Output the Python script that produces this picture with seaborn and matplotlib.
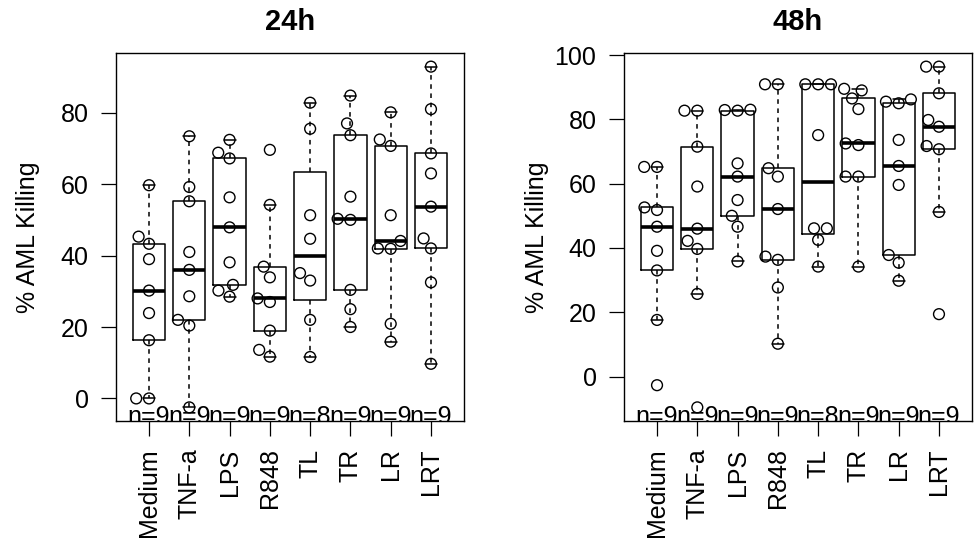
import numpy as np
import pandas as pd
import matplotlib
matplotlib.use("Agg")
import matplotlib.pyplot as plt
import matplotlib.transforms as mtransforms
from matplotlib.collections import PathCollection
import seaborn as sns

sns.set_style("ticks")
plt.rcParams["font.family"] = ["Liberation Sans", "DejaVu Sans"]
plt.rcParams["text.color"] = "black"
plt.rcParams["axes.labelcolor"] = "black"
plt.rcParams["xtick.color"] = "black"
plt.rcParams["ytick.color"] = "black"

groups = ["Medium", "TNF-a", "LPS", "R848", "TL", "TR", "LR", "LRT"]

# % AML killing, 24h
medium_24 = [59.7, 45.3, 43.3, 39.0, 30.2, 23.9, 16.3, 0.0, 0.0]
tnfa_24 = [73.4, 59.2, 55.2, 41.0, 36.0, 28.6, 22.0, 20.4, -2.5]
lps_24 = [72.4, 68.8, 67.2, 56.3, 47.9, 38.1, 31.8, 30.2, 28.5]
r848_24 = [69.6, 54.2, 36.9, 33.9, 28.0, 27.0, 19.0, 13.6, 11.7]
tl_24 = [82.8, 75.5, 51.3, 44.7, 35.1, 33.0, 22.0, 11.6]
tr_24 = [84.8, 77.0, 73.7, 56.5, 50.3, 50.0, 30.4, 25.0, 20.0]
lr_24 = [80.1, 72.5, 70.7, 51.3, 44.1, 41.9, 42.0, 20.9, 15.9]
lrt_24 = [92.9, 81.0, 68.6, 63.0, 53.7, 44.8, 42.0, 32.5, 9.7]

# % AML killing, 48h
medium_48 = [65.2, 65.2, 52.6, 51.8, 46.6, 39.1, 33.0, 17.6, -2.7]
tnfa_48 = [82.7, 82.7, 71.5, 59.1, 46.0, 42.2, 39.7, 25.7, -9.6]
lps_48 = [83.0, 82.9, 82.7, 66.3, 62.2, 54.9, 50.0, 46.6, 35.8]
r848_48 = [90.9, 90.9, 64.8, 62.2, 52.1, 37.3, 36.3, 27.7, 10.2]
tl_48 = [90.9, 90.9, 90.9, 75.1, 46.1, 46.1, 42.5, 34.2]
tr_48 = [89.5, 89.0, 86.5, 83.2, 72.5, 72.0, 62.2, 62.2, 34.2]
lr_48 = [86.2, 85.5, 85.0, 73.6, 65.5, 59.6, 37.8, 35.4, 29.8]
lrt_48 = [96.4, 96.4, 88.1, 79.8, 77.7, 71.7, 70.7, 51.2, 19.4]

panels = [
    ("24h", [medium_24, tnfa_24, lps_24, r848_24, tl_24, tr_24, lr_24, lrt_24]),
    ("48h", [medium_48, tnfa_48, lps_48, r848_48, tl_48, tr_48, lr_48, lrt_48]),
]


def fivenum_stats(vals, coef=1.5):
    # R style hinges and whiskers
    x = np.sort(np.asarray(vals, float))
    n = len(x)
    n4 = np.floor((n + 3) / 2) / 2
    d = np.array([1, n4, (n + 1) / 2, n + 1 - n4, n]) - 1
    f = 0.5 * (x[np.floor(d).astype(int)] + x[np.ceil(d).astype(int)])
    iqr = f[3] - f[1]
    lo = x[x >= f[1] - coef * iqr].min()
    hi = x[x <= f[3] + coef * iqr].max()
    return {"med": f[2], "q1": f[1], "q3": f[3], "whislo": lo, "whishi": hi, "fliers": []}


W, H = 974, 543
fig = plt.figure(figsize=(W / 100, H / 100), dpi=100)
fs = 18
lefts = [116, 624]
ylab_x = [28, 537]

for k, (title, series) in enumerate(panels):
    x0 = lefts[k]
    ax = fig.add_axes([x0 / W, 1 - 421 / H, 348 / W, (421 - 53) / H])

    df = pd.DataFrame({
        "group": np.repeat(groups, [len(s) for s in series]),
        "value": np.concatenate(series),
    })
    sns.swarmplot(data=df, x="group", y="value", order=groups, ax=ax,
                  size=7.8, color="black", zorder=3)
    for c in ax.collections:
        if isinstance(c, PathCollection):
            c.set_facecolor("none")
            c.set_edgecolor("black")
            c.set_linewidth(1.0)

    ax.bxp([fivenum_stats(s) for s in series], positions=range(len(groups)),
           widths=0.8, showfliers=False, manage_ticks=False, capwidths=0.3,
           boxprops=dict(color="black", lw=1.1),
           medianprops=dict(color="black", lw=2.6, solid_capstyle="butt"),
           whiskerprops=dict(color="black", lw=1.1, linestyle=(0, (3, 3))),
           capprops=dict(color="black", lw=1.1), zorder=2)

    allv = df["value"]
    rng = allv.max() - allv.min()
    ax.set_ylim(allv.min() - 0.04 * rng, allv.max() + 0.04 * rng)
    ax.set_xlim(-0.82, len(groups) - 0.18)
    ax.yaxis.set_major_locator(matplotlib.ticker.MultipleLocator(20))
    ax.set_xticks(range(len(groups)))
    ax.set_xticklabels(groups, rotation=90)
    ax.set_xlabel("")
    ax.set_ylabel("")
    ax.tick_params(direction="out", length=10.8, width=0.9, pad=9,
                   labelsize=fs, color="black", labelcolor="black")
    for sp in ax.spines.values():
        sp.set_linewidth(1.0)
        sp.set_color("black")

    # sample sizes along the bottom, clipped by the plot region
    trans = mtransforms.blended_transform_factory(ax.transData, ax.transAxes)
    for i, s in enumerate(series):
        ax.text(i, -0.008, f"n={len(s)}", transform=trans, ha="center",
                va="baseline", fontsize=fs, clip_on=True)

    ax.text(0.5, 1.085, title, transform=ax.transAxes, ha="center", va="center",
            fontsize=21, fontweight="bold")
    fig.text(ylab_x[k] / W, 1 - 237 / H, "% AML Killing", rotation=90,
             ha="center", va="center", fontsize=fs)

fig.savefig("out.png", dpi=100)
